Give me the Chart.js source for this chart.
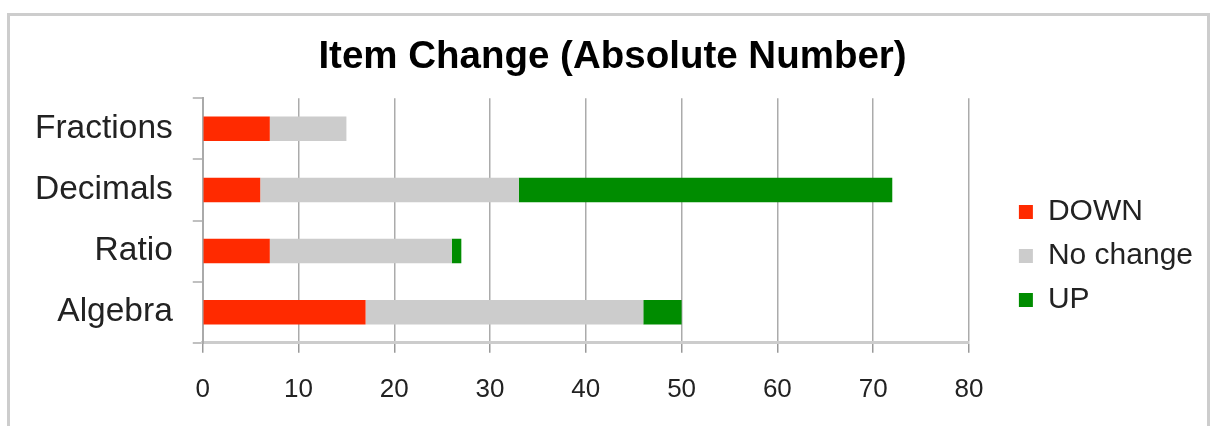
<!DOCTYPE html>
<html lang="en">
<head>
    <meta charset="UTF-8">
    <title>Item Change (Absolute Number)</title>
    <script src="https://cdn.jsdelivr.net/npm/chart.js"></script>
    <style>
        body {
            margin: 0;
            padding: 0;
            background: #ffffff;
        }
        .frame {
            position: absolute;
            left: 7px;
            top: 13px;
            width: 1197px;
            height: 410px;
            border: 3px solid #cdcdcd;
            border-bottom: 1px solid #eeeeee;
        }
        .wrap {
            position: absolute;
            left: 0;
            top: 0;
            width: 1210px;
            height: 426px;
        }
    </style>
</head>
<body>
<div class="frame"></div>
<div class="wrap">
    <canvas id="chart" width="1210" height="426"></canvas>
</div>

<script>
    // data
    const categories = ['Fractions', 'Decimals', 'Ratio', 'Algebra'];
    const downValues = [7, 6, 7, 17];
    const noChangeValues = [8, 27, 19, 29];
    const upValues = [0, 39, 1, 4];
    const xTicks = [0, 10, 20, 30, 40, 50, 60, 70, 80];

    // the legend sits further right and lower than Chart.js puts it by default
    const LEGEND_EXTRA_WIDTH = 43;
    const LEGEND_SHIFT_X = 36;
    const LEGEND_SHIFT_Y = 26;

    const legendOffset = {
        id: 'legendOffset',
        afterInit(chart) {
            const legend = chart.legend;
            const fit = legend.fit;
            legend.fit = function () {
                fit.call(this);
                this.width += LEGEND_EXTRA_WIDTH;
            };
        },
        afterLayout(chart) {
            const legend = chart.legend;
            legend.left += LEGEND_SHIFT_X;
            legend.top += LEGEND_SHIFT_Y;
            legend.bottom += LEGEND_SHIFT_Y;
        }
    };

    const ctx = document.getElementById('chart').getContext('2d');
    new Chart(ctx, {
        type: 'bar',
        data: {
            labels: categories,
            datasets: [{
                label: 'DOWN',
                data: downValues,
                backgroundColor: '#ff2a00'
            }, {
                label: 'No change',
                data: noChangeValues,
                backgroundColor: '#cccccc'
            }, {
                label: 'UP',
                data: upValues,
                backgroundColor: '#008c00'
            }]
        },
        plugins: [legendOffset],
        options: {
            indexAxis: 'y',
            responsive: false,
            animation: false,
            categoryPercentage: 1,
            barPercentage: 0.4,
            layout: {
                padding: {top: 34, left: 15, right: 0, bottom: 0}
            },
            plugins: {
                title: {
                    display: true,
                    text: 'Item Change (Absolute Number)',
                    color: '#000000',
                    font: {family: 'Liberation Sans, Arial, sans-serif', size: 38.5, weight: 'bold'},
                    padding: {top: 0, bottom: 18}
                },
                legend: {
                    position: 'right',
                    labels: {
                        color: '#222222',
                        boxWidth: 14,
                        boxHeight: 14,
                        padding: 14,
                        font: {family: 'Liberation Sans, Arial, sans-serif', size: 30}
                    }
                },
                tooltip: {enabled: false}
            },
            scales: {
                x: {
                    stacked: true,
                    min: 0,
                    max: 80,
                    afterBuildTicks: axis => {
                        axis.ticks = xTicks.map(v => ({value: v}));
                    },
                    grid: {
                        color: '#ababab',
                        lineWidth: 1.5,
                        tickLength: 10,
                        tickColor: '#999999'
                    },
                    border: {color: '#cccccc', width: 3},
                    ticks: {
                        color: '#222222',
                        padding: 21,
                        font: {family: 'Liberation Sans, Arial, sans-serif', size: 26}
                    }
                },
                y: {
                    stacked: true,
                    grid: {
                        drawOnChartArea: false,
                        tickLength: 10,
                        color: '#c0c0c0',
                        lineWidth: 2
                    },
                    border: {color: '#aaaaaa', width: 2},
                    ticks: {
                        color: '#222222',
                        padding: 20,
                        font: {family: 'Liberation Sans, Arial, sans-serif', size: 33.5}
                    }
                }
            }
        }
    });
</script>
</body>
</html>
